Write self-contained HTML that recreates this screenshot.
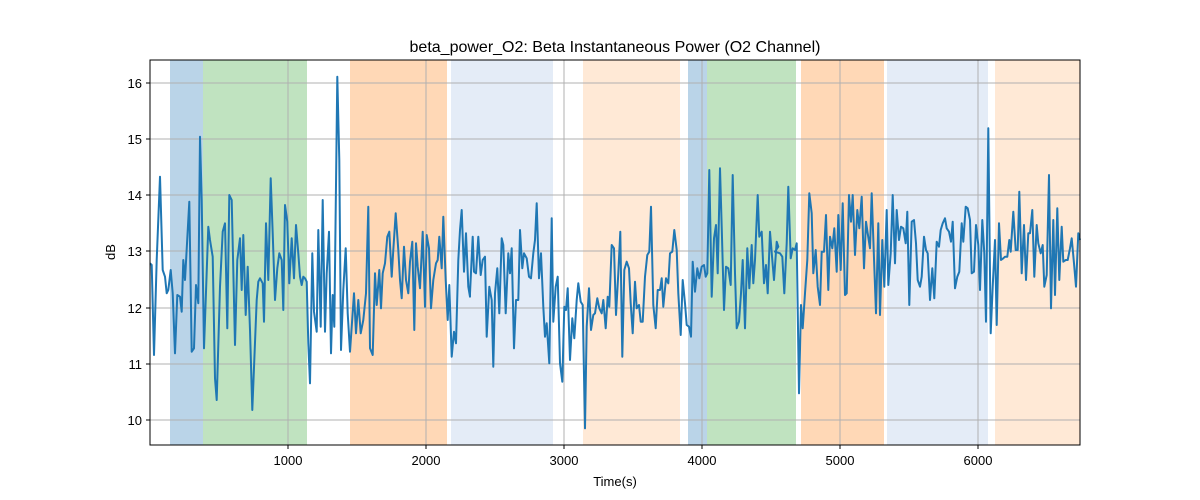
<!DOCTYPE html>
<html><head><meta charset="utf-8"><style>
body{margin:0;background:#fff;}
svg{display:block;font-family:"Liberation Sans","DejaVu Sans",sans-serif;}
</style></head><body>
<svg id="s" width="1200" height="500" viewBox="0 0 1200 500" xmlns="http://www.w3.org/2000/svg">
<rect width="1200" height="500" fill="#fff"/>
<g id="spans">
<rect x="170" y="60" width="33" height="385" fill="#bad4e8"/>
<rect x="203" y="60" width="104" height="385" fill="#c0e3c0"/>
<rect x="350" y="60" width="97" height="385" fill="#ffd8b6"/>
<rect x="451" y="60" width="102" height="385" fill="#e4ecf7"/>
<rect x="583" y="60" width="97" height="385" fill="#ffe9d6"/>
<rect x="688" y="60" width="19" height="385" fill="#bad4e8"/>
<rect x="707" y="60" width="89" height="385" fill="#c0e3c0"/>
<rect x="801" y="60" width="83" height="385" fill="#ffd8b6"/>
<rect x="887" y="60" width="101" height="385" fill="#e4ecf7"/>
<rect x="995" y="60" width="85" height="385" fill="#ffe9d6"/>
</g>
<g stroke="#b0b0b0" stroke-width="1">
<line x1="288" y1="60" x2="288" y2="445"/><line x1="426" y1="60" x2="426" y2="445"/>
<line x1="564" y1="60" x2="564" y2="445"/><line x1="702" y1="60" x2="702" y2="445"/>
<line x1="840" y1="60" x2="840" y2="445"/><line x1="978" y1="60" x2="978" y2="445"/>
<line x1="150" y1="420" x2="1080" y2="420"/><line x1="150" y1="364" x2="1080" y2="364"/>
<line x1="150" y1="308" x2="1080" y2="308"/><line x1="150" y1="251" x2="1080" y2="251"/>
<line x1="150" y1="195" x2="1080" y2="195"/><line x1="150" y1="139" x2="1080" y2="139"/>
<line x1="150" y1="83" x2="1080" y2="83"/>
</g>
<polyline id="ln" fill="none" stroke="#1f77b4" stroke-width="2" stroke-linejoin="round"/>
<rect x="150" y="60" width="930" height="385" fill="none" stroke="#000" stroke-width="1"/>
<g stroke="#000">
<line x1="288" y1="445" x2="288" y2="449"/><line x1="426" y1="445" x2="426" y2="449"/>
<line x1="564" y1="445" x2="564" y2="449"/><line x1="702" y1="445" x2="702" y2="449"/>
<line x1="840" y1="445" x2="840" y2="449"/><line x1="978" y1="445" x2="978" y2="449"/>
<line x1="146" y1="420" x2="150" y2="420"/><line x1="146" y1="364" x2="150" y2="364"/>
<line x1="146" y1="308" x2="150" y2="308"/><line x1="146" y1="251" x2="150" y2="251"/>
<line x1="146" y1="195" x2="150" y2="195"/><line x1="146" y1="139" x2="150" y2="139"/>
<line x1="146" y1="83" x2="150" y2="83"/>
</g>
<g font-size="13" fill="#000" text-anchor="middle">
<text x="288" y="465">1000</text><text x="426" y="465">2000</text><text x="564" y="465">3000</text>
<text x="702" y="465">4000</text><text x="840" y="465">5000</text><text x="978" y="465">6000</text>
<text x="615" y="486">Time(s)</text>
<text x="615" y="52" font-size="16">beta_power_O2: Beta Instantaneous Power (O2 Channel)</text>
</g>
<g font-size="13" fill="#000" text-anchor="end">
<text x="142" y="425">10</text><text x="142" y="369">11</text><text x="142" y="313">12</text>
<text x="142" y="256">13</text><text x="142" y="200">14</text><text x="142" y="144">15</text><text x="142" y="88">16</text>
</g>
<text x="115" y="252" font-size="13" text-anchor="middle" transform="rotate(-90 115 252)">dB</text>
</svg>
<script>
var z1=[0,610,5,615,12,885,20,600,30,350,38,630,45,650,50,700,55,690,62,630,68,700,75,880,82,705,90,710,95,755,100,600,105,660,118,425,125,875,132,865,138,675,145,730,150,230,155,420,162,865,175,500,180,540,188,590,195,955,200,1020,210,680,218,515,225,490,232,805,238,405,245,420,255,855,262,600,270,535,275,690,280,525,287,765,293,620,300,810,307,1050,313,900,320,720,325,665,330,655,338,670,342,785,348,490,355,660,362,355,368,520,375,720,382,625,388,580,395,600,400,750,405,435,412,485,418,670,425,535,432,655,438,495,445,580,450,650,455,675,460,650,465,655,470,665,475,850,480,970,487,580,492,755,500,815,505,510,512,800,518,420,525,815,530,640,537,515,543,880,548,705,553,800,562,50,568,300,573,870,580,690,587,565,593,760,600,875,612,700,618,820,625,720,632,820,640,780,648,700,655,440,660,865,668,885,675,640,680,735,688,630,693,745,698,640,705,610,712,530,718,515,725,650,730,570,737,460,745,570,750,660,755,715,762,560,768,660,775,700,780,605,787,545,793,810,798,550,803,620,810,685,818,515,825,740,830,525,837,565,843,745,850,660,858,610,863,600,868,530,875,625,880,470,887,660,893,780,898,675,905,890,912,815,918,850,925,600,930,510,935,450,942,635,948,520,955,680,960,710];
var z2=[30,700,38,530,42,635,48,640,55,530,62,645,68,600,75,590,80,830,88,680,95,720,100,920,105,700,112,625,118,760,125,535,130,555,137,760,145,580,150,640,155,565,162,865,168,720,175,720,180,510,187,625,192,580,200,595,207,650,213,655,220,580,225,540,230,430,237,655,243,580,250,740,255,830,260,790,268,910,275,475,280,785,287,680,293,650,300,910,307,965,313,740,318,750,323,685,330,900,337,775,343,835,350,720,355,670,362,725,368,735,375,1105,380,800,387,685,393,810,400,765,405,760,412,715,418,745,425,760,430,720,437,805,443,710,448,740,455,555,462,565,468,765,475,640,481,515,487,890,493,630,500,605,507,625,512,730,518,820,525,665,530,745,537,735,542,785,548,785,555,650,562,585,568,575,573,440,580,735,587,805,593,690,600,690,605,655,610,740,618,655,625,670,630,580,637,575,643,510,650,570,655,700,662,825,668,660,675,730,680,795,687,800,693,830,698,605,705,695,712,625,718,655,725,620,732,615,737,650,742,640,748,330,755,710,762,535,768,495,773,640,780,325,785,500,792,750,798,620,805,625,812,675,818,345,825,640,830,805,837,785,843,700,848,600,855,805,862,565,868,685,875,555,880,670,885,600,893,405,898,530,905,515,912,670,918,615,923,700,930,515,937,600,942,660,950,545,955,560];
var z3=[15,575,30,580,37,590,43,700,50,550,55,380,62,595,68,565,75,570,80,550,87,1000,93,735,98,805,105,700,112,600,118,400,125,460,130,640,137,570,143,680,150,735,155,575,162,575,168,465,175,690,180,530,187,565,193,505,200,635,205,465,212,630,218,430,225,705,230,700,237,405,243,485,248,405,255,585,262,450,268,505,275,410,282,625,288,485,293,520,300,565,305,400,312,595,318,760,325,490,330,765,337,540,343,680,350,450,355,675,362,580,368,405,375,610,380,450,387,540,393,500,400,505,407,550,412,455,418,735,425,485,432,480,438,550,443,660,450,680,455,650,462,530,468,570,473,580,480,720,487,625,493,715,500,545,507,560,512,510,518,490,525,475,530,505,537,515,543,545,548,485,555,685,562,650,568,635,575,490,580,545,587,440,593,445,600,480,605,640,612,635,618,495,625,555,630,690,637,480,643,580,648,785,655,205,662,820,668,680,675,540,680,795,687,490,693,600,700,595,705,590,712,590,718,540,722,575,730,455,737,570,743,570,748,395,755,640,762,495,768,660,775,520,780,520,787,450,793,650,800,495,805,550,812,580,818,555,823,680,830,645,837,345,843,745,850,480,855,705,862,445,868,660,875,500,880,605,887,600,893,600,900,565,905,535,912,610,918,680,925,520,930,540];
var pts=[];
function add(a,ox){for(var i=0;i<a.length;i+=2){pts.push((ox+a[i]/3).toFixed(1)+","+(60+a[i+1]/3).toFixed(1));}}
add(z1,150);add(z2,460);add(z3,770);
document.getElementById("ln").setAttribute("points",pts.join(" "));
</script>
</body></html>
